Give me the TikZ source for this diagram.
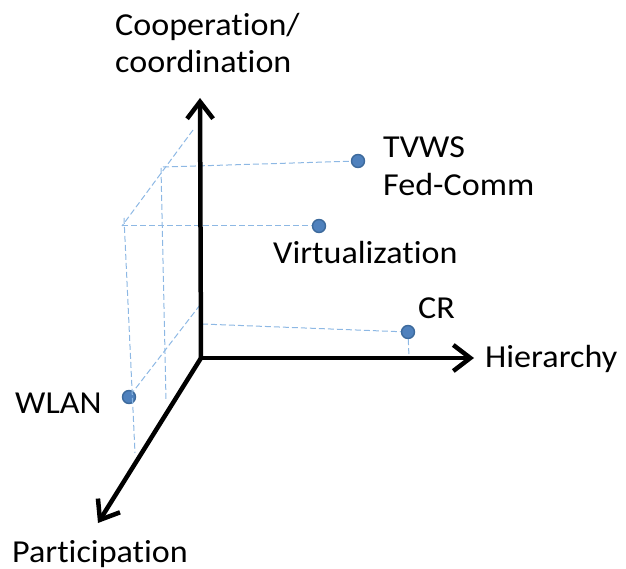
\documentclass[tikz,border=0pt]{standalone}
\usepackage{fontspec}
\setmainfont[Ligatures=CommonOff, FakeStretch=1.065]{Carlito}
\usetikzlibrary{arrows.meta}
\definecolor{ptfill}{HTML}{4F81BD}
\definecolor{ptdraw}{HTML}{3D6A9C}
\definecolor{guide}{HTML}{8DB8E4}
\tikzset{
  axis/.style={line width=4.5pt, line cap=round, line join=round,
    -{Straight Barb[length=17pt, width=26pt, line width=4.5pt]}},
  guideline/.style={guide, line width=1pt, dash pattern=on 6pt off 3pt},
  pt/.style={circle, fill=ptfill, draw=ptdraw, line width=1.4pt,
    minimum size=13pt, inner sep=0pt},
  lbl/.style={anchor=base west, inner sep=0pt, font=\fontsize{32}{38}\selectfont}
}
\begin{document}
\begin{tikzpicture}[x=1pt, y=-1pt]
  \useasboundingbox (0,0) rectangle (626,569);

  % data points
  \node[pt] (tvws) at (358,161) {};
  \node[pt] (virt) at (319,226) {};
  \node[pt] (cr)   at (408,332) {};
  \node[pt] (wlan) at (129,397) {};

  % helper corners of the projection box
  \coordinate (b1) at (193,130);
  \coordinate (b2) at (122,226);
  \coordinate (b3) at (163,167);
  \coordinate (b4) at (161,168);
  \coordinate (b5) at (166,400);
  \coordinate (b6) at (124,218);
  \coordinate (b7) at (135,453);
  \coordinate (b8) at (200,305);
  \coordinate (b9) at (202,324);
  \coordinate (b10) at (409,357);

  % dashed projection lines
  \draw[guideline] (b1) -- (b2);
  \draw[guideline] (b3) -- (tvws);
  \draw[guideline] (b4) -- (b5);
  \draw[guideline] (b2) -- (virt);
  \draw[guideline] (b6) -- (b7);
  \draw[guideline] (b8) -- (wlan);
  \draw[guideline] (b9) -- (cr);
  \draw[guideline] (cr) -- (b10);

  % axes
  \coordinate (O) at (201,358);
  \coordinate (up) at (200,98);
  \coordinate (right) at (474,358);
  \coordinate (down) at (98,523);
  \draw[axis] (O) -- (up);
  \draw[axis] (O) -- (right);
  \draw[axis] (O) -- (down);

  % labels
  \node[lbl] (coop)  at (115,36)  {Cooperation/};
  \node[lbl] (coord) at (115,73)  {coordination};
  \node[lbl] (ltv)   at (383,158) {TVWS};
  \node[lbl] (lfed)  at (383,196) {Fed-Comm};
  \node[lbl] (lvirt) at (273,263) {Virtualization};
  \node[lbl] (lcr)   at (418,318) {CR};
  \node[lbl] (lhier) at (485,367) {Hierarchy};
  \node[lbl] (lwlan) at (15,413)  {WLAN};
  \node[lbl] (lpart) at (12,562)  {Participation};
\end{tikzpicture}
\end{document}
